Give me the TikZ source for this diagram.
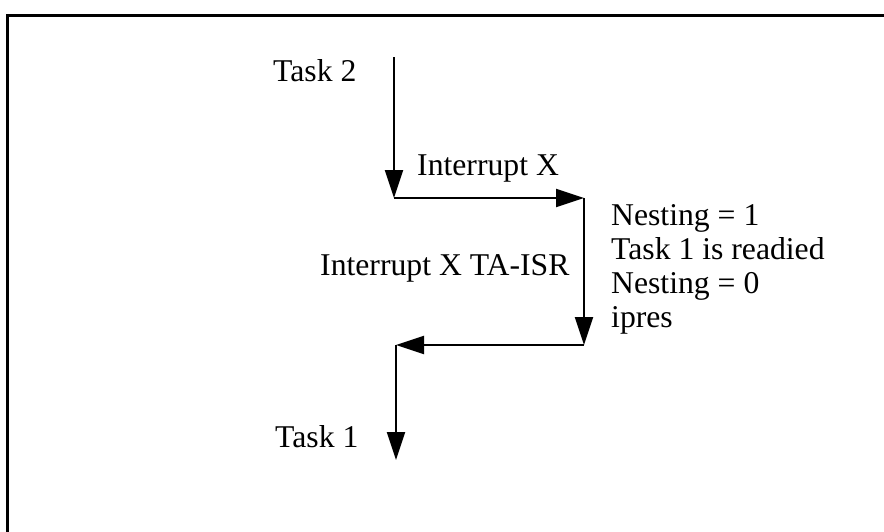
\documentclass[tikz,border=0pt]{standalone}
\usepackage{fontspec}
\setmainfont{Liberation Serif}
\usetikzlibrary{arrows.meta}
\newlength{\du}
\setlength{\du}{1pt}
\tikzset{
  flow/.style={line width=2pt, -{Triangle[length=28pt,width=18pt]}},
  lbl/.style={anchor=base west, inner sep=0pt, font=\fontsize{31.7}{34}\selectfont},
}
\begin{document}
\begin{tikzpicture}[x=\du, y=-\du]
\useasboundingbox (0,0) rectangle (884,531);
% frame
\draw[line width=3pt] (7,15) rectangle (900,560);
% path of control
\coordinate (t2) at (394,57);
\coordinate (irq) at (394,198);
\coordinate (isr) at (584,198);
\coordinate (ret) at (584,345);
\coordinate (back) at (396,345);
\coordinate (t1) at (396,460);
\draw[flow] (t2) -- (irq);
\draw[flow] (irq) -- (isr);
\draw[flow] (isr) -- (ret);
\draw[flow] (ret) -- (back);
\draw[flow] (back) -- (t1);
% texts
\node[lbl] (task2) at (273,81) {Task 2};
\node[lbl] (intx) at (417,175) {Interrupt X};
\node[lbl] (tai) at (320,275) {Interrupt X TA-ISR};
\node[lbl] (nest1) at (611,225) {Nesting = 1};
\node[lbl] (rdy) at (611,259) {Task 1 is readied};
\node[lbl] (nest0) at (611,293) {Nesting = 0};
\node[lbl] (ipres) at (611,327) {ipres};
\node[lbl] (task1) at (275,447) {Task 1};
\end{tikzpicture}
\end{document}
